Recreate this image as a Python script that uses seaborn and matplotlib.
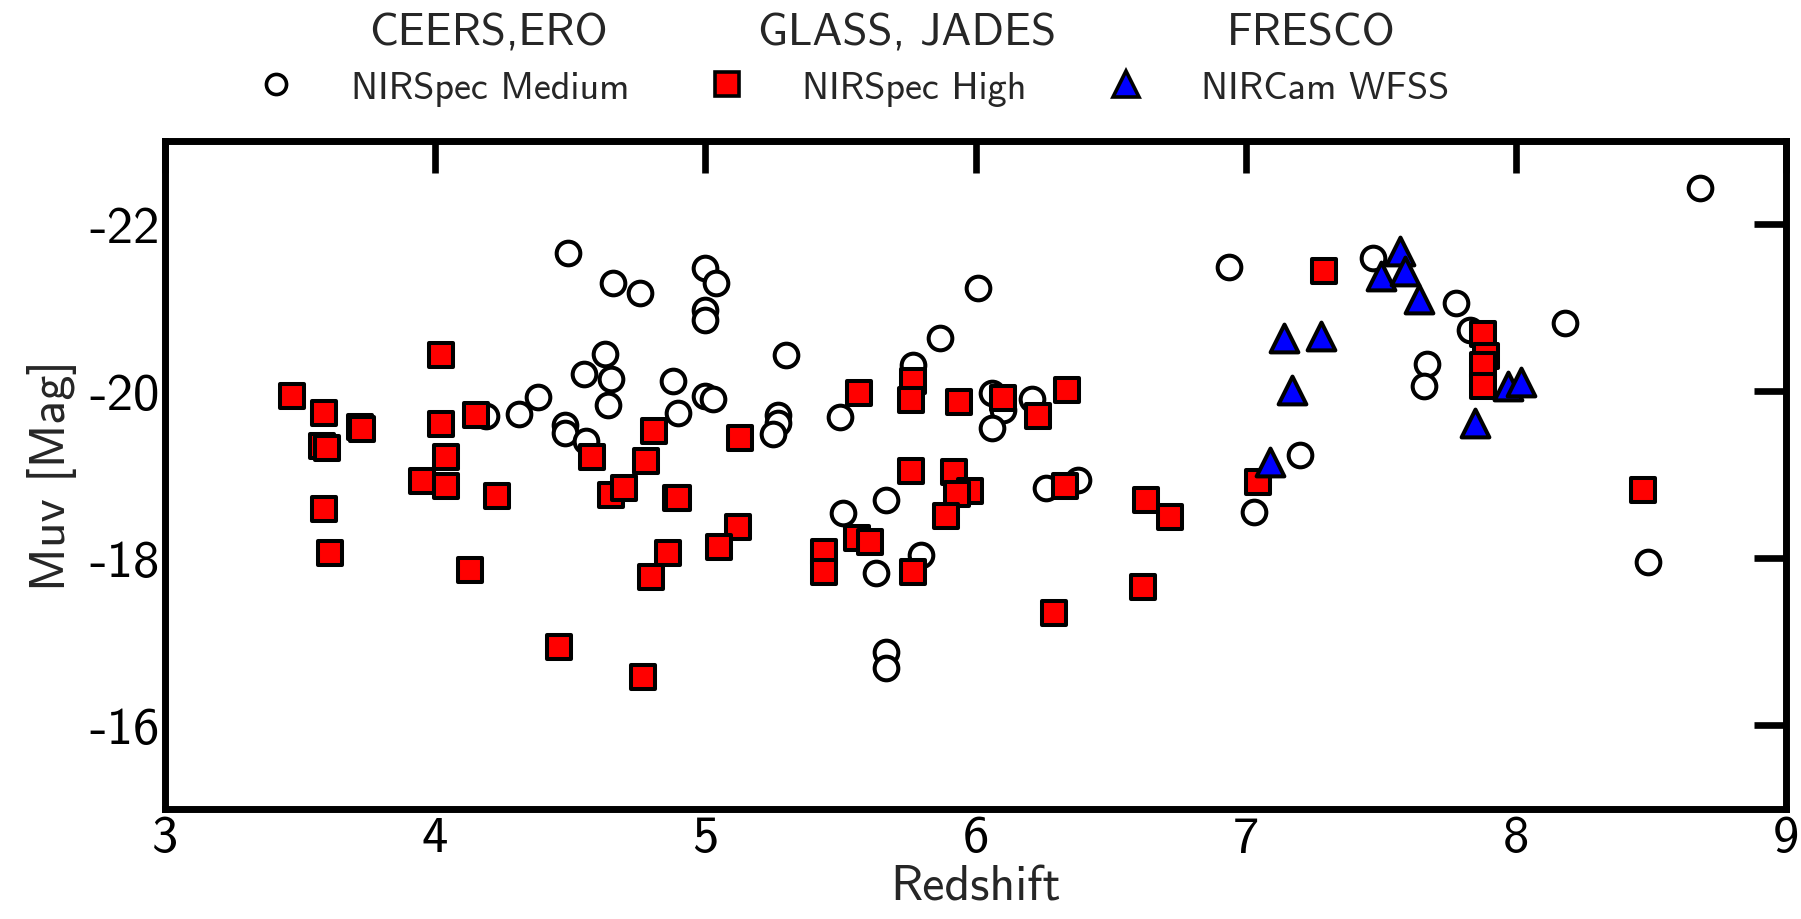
import matplotlib
matplotlib.use("Agg")
import matplotlib.pyplot as plt
from matplotlib.lines import Line2D
import seaborn as sns
import pandas as pd

# Redshift / UV magnitude for each spectroscopic sample
medium_z = [4.49, 4.66, 4.76, 5.00, 5.04, 5.00, 5.00, 4.63, 4.55, 4.65, 4.64, 4.88,
            4.38, 4.31, 4.19, 4.48, 4.48, 4.56, 4.90, 5.00, 5.03, 5.30, 6.01, 5.87,
            5.77, 5.27, 5.27, 5.25, 5.50, 6.06, 6.10, 6.06, 6.21, 6.94, 5.51, 5.67,
            5.80, 5.63, 5.67, 5.67, 6.26, 6.38, 8.68, 7.47, 7.78, 7.83, 8.18, 7.67,
            7.66, 7.20, 7.03, 8.49]
medium_muv = [-21.66, -21.30, -21.18, -21.48, -21.30, -20.97, -20.86, -20.45, -20.21,
              -20.15, -19.84, -20.12, -19.93, -19.73, -19.71, -19.60, -19.50, -19.40,
              -19.74, -19.94, -19.91, -20.44, -21.24, -20.64, -20.31, -19.72, -19.62,
              -19.49, -19.69, -19.98, -19.78, -19.56, -19.91, -21.49, -18.54, -18.70,
              -18.04, -17.82, -16.88, -16.69, -18.84, -18.94, -22.44, -21.60, -21.06,
              -20.74, -20.82, -20.33, -20.06, -19.24, -18.55, -17.95]

high_z = [3.47, 3.59, 3.72, 3.73, 3.58, 3.60, 3.59, 3.61, 4.02, 4.02, 4.15, 4.04,
          3.95, 4.04, 4.23, 4.13, 4.81, 4.58, 4.78, 4.65, 4.70, 4.89, 4.90, 4.86,
          4.80, 4.46, 4.77, 5.13, 5.57, 5.77, 5.76, 5.94, 6.10, 6.23, 6.34, 5.12,
          5.05, 5.76, 5.92, 5.98, 5.93, 5.89, 5.44, 5.44, 5.56, 5.61, 5.77, 6.33,
          6.63, 6.72, 6.62, 6.29, 7.29, 7.88, 7.89, 7.88, 7.88, 7.045, 8.47]
high_muv = [-19.94, -19.74, -19.57, -19.55, -19.34, -19.32, -18.59, -18.06, -20.43,
            -19.61, -19.72, -19.21, -18.92, -18.86, -18.74, -17.86, -19.53, -19.21,
            -19.17, -18.76, -18.84, -18.72, -18.72, -18.06, -17.78, -16.94, -16.58,
            -19.44, -19.98, -20.12, -19.90, -19.87, -19.92, -19.71, -20.02, -18.38,
            -18.14, -19.04, -19.03, -18.81, -18.77, -18.50, -18.07, -17.84, -18.24,
            -18.19, -17.83, -18.86, -18.70, -18.49, -17.65, -17.34, -21.44, -20.69,
            -20.42, -20.32, -20.06, -18.91, -18.82]

wfss_z = [7.57, 7.50, 7.59, 7.64, 7.14, 7.28, 7.17, 7.97, 8.02, 7.85, 7.09]
wfss_muv = [-21.68, -21.38, -21.44, -21.11, -20.64, -20.66, -20.02, -20.07, -20.11,
            -19.62, -19.15]

survey_headers = ["CEERS,ERO", "GLASS, JADES", "FRESCO"]
mode_labels = ["NIRSpec Medium", "NIRSpec High", "NIRCam WFSS"]
x_ticks = [3, 4, 5, 6, 7, 8, 9]
y_ticks = [-22, -20, -18, -16]

sns.set_style("white")
plt.rcParams["font.family"] = ["cmss10", "DejaVu Sans"]
plt.rcParams["axes.unicode_minus"] = False
plt.rcParams["mathtext.fontset"] = "cm"

fig = plt.figure(figsize=(18.01, 9.20), dpi=100)
ax = fig.add_axes([0.0916, 0.1201, 0.9001, 0.7255])

medium = pd.DataFrame({"z": medium_z, "muv": medium_muv})
high = pd.DataFrame({"z": high_z, "muv": high_muv})
wfss = pd.DataFrame({"z": wfss_z, "muv": wfss_muv})

edge_lw = 2.9
sns.scatterplot(data=medium, x="z", y="muv", ax=ax, marker="o", s=290,
                facecolor="white", edgecolor="black", linewidth=edge_lw, zorder=3)
sns.scatterplot(data=high, x="z", y="muv", ax=ax, marker="s", s=310,
                color="#ff0000", edgecolor="black", linewidth=edge_lw, zorder=4)
sns.scatterplot(data=wfss, x="z", y="muv", ax=ax, marker="^", s=400,
                color="#0000ff", edgecolor="black", linewidth=edge_lw, zorder=5)

ax.set_xlim(3, 9)
ax.set_ylim(-15, -23)
ax.set_xticks(x_ticks)
ax.set_yticks(y_ticks)
ax.set_xticklabels([str(t) for t in x_ticks])
ax.set_yticklabels([str(t) for t in y_ticks])

for sp in ax.spines.values():
    sp.set_visible(True)
    sp.set_linewidth(5.0)
    sp.set_color("black")

ax.tick_params(axis="both", which="major", direction="in", length=23, width=4.8,
               top=True, right=True, labelsize=38, colors="black")
ax.tick_params(axis="x", pad=5)
ax.tick_params(axis="y", pad=4)

ax.set_xlabel("Redshift", fontsize=36, labelpad=2)
ax.set_ylabel("Muv [Mag]", fontsize=36, labelpad=9)

# Survey names above each observing-mode legend entry
header_x = [0.271, 0.5036, 0.728]
for hx, txt in zip(header_x, survey_headers):
    fig.text(hx, 0.951, txt, ha="center", va="baseline", fontsize=32.5)

handles = [
    Line2D([], [], ls="none", marker="o", ms=14.5, mfc="white", mec="black", mew=2.6),
    Line2D([], [], ls="none", marker="s", ms=17.5, mfc="#ff0000", mec="black", mew=2.6),
    Line2D([], [], ls="none", marker="^", ms=19, mfc="#0000ff", mec="black", mew=2.6),
]
legend_x = [0.1428, 0.3932, 0.6148]
for lx, h, lab in zip(legend_x, handles, mode_labels):
    fig.legend(handles=[h], labels=[lab], loc="center left",
               bbox_to_anchor=(lx, 0.903), frameon=False, fontsize=27.5,
               handlelength=1.0, handletextpad=1.45, borderpad=0,
               borderaxespad=0)

fig.savefig("out.png", dpi=100)
